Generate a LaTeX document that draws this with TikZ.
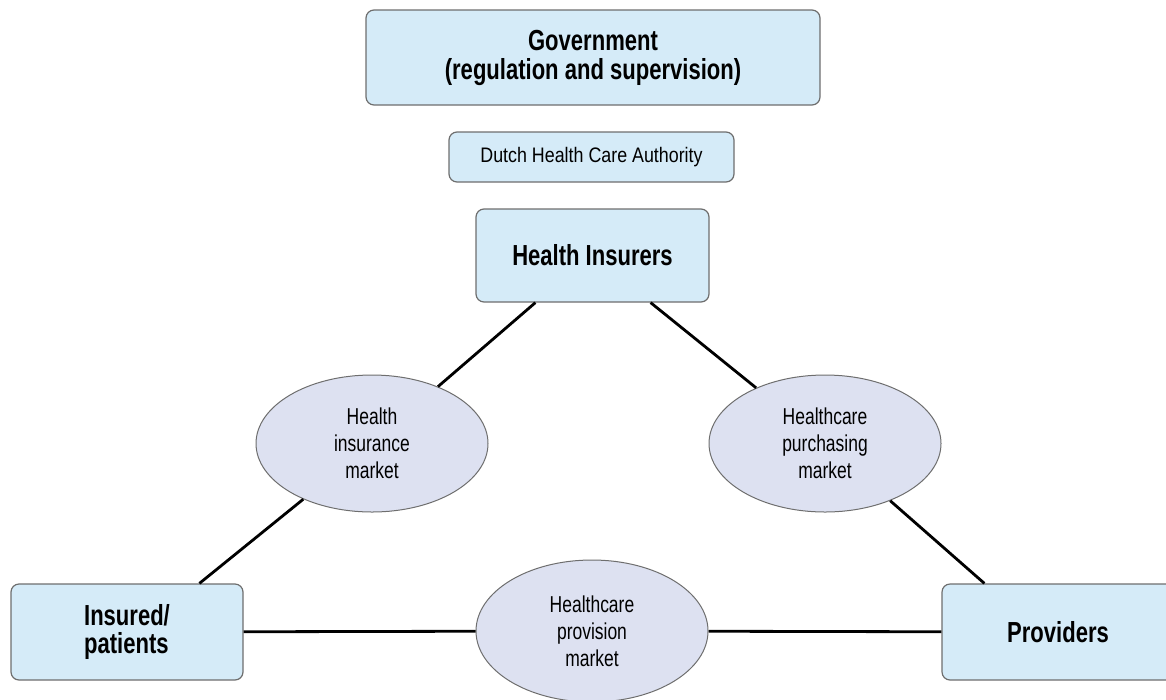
\documentclass[tikz,border=0pt]{standalone}
\usepackage{fontspec}
\setmainfont{Liberation Sans}[FakeStretch=0.76]
\newfontfamily\dutchfont{Liberation Sans}[FakeStretch=0.85]
\usetikzlibrary{shapes.geometric,calc}
\definecolor{boxfill}{HTML}{D5EBF8}
\definecolor{ellfill}{HTML}{DDE1F1}
\definecolor{edge}{HTML}{6E6E6E}
\tikzset{
  box/.style={draw=edge, line width=1.2pt, fill=boxfill, rounded corners=8pt, inner sep=0pt, align=center},
  mkt/.style={ellipse, draw=edge, line width=1pt, fill=ellfill, inner sep=0pt, align=center,
     font=\fontsize{23}{27}\selectfont},
  link/.style={line width=2.8pt, black},
  bigtext/.style={font=\bfseries\fontsize{29}{29}\selectfont},
}
\begin{document}
\begin{tikzpicture}[x=1pt,y=-1pt]
\useasboundingbox (0,0) rectangle (1166,699);
\node[box, bigtext, minimum width=454pt, minimum height=95pt] (gov) at (593,57.5) {Government\\(regulation and supervision)};
\node[box, minimum width=285pt, minimum height=50pt, font=\dutchfont\fontsize{21}{22}\selectfont] (dhca) at (591.5,157) {Dutch Health Care Authority};
\node[box, bigtext, minimum width=233pt, minimum height=93pt] (hi) at (592.5,255.5) {Health Insurers};
\node[box, bigtext, minimum width=232pt, minimum height=96pt, align=left, font=\bfseries\fontsize{29}{28}\selectfont] (ins) at (127,632) {Insured/\\patients};
\node[box, bigtext, minimum width=232pt, minimum height=96pt] (prov) at (1058,632) {Providers};
\node[mkt, minimum width=232pt, minimum height=137pt] (him) at (372,443.5) {Health\\insurance\\market};
\node[mkt, minimum width=232pt, minimum height=137pt] (hpm) at (825,443.5) {Healthcare\\purchasing\\market};
\node[mkt, minimum width=232pt, minimum height=142pt] (hpv) at (592,631) {Healthcare\\provision\\market};
\draw[link] ($(hi.south west)+(60,0)$) -- (him);
\draw[link] (him) -- ($(ins.north west)+(189,0)$);
\draw[link] ($(hi.south east)-(59,0)$) -- (hpm);
\draw[link] (hpm) -- ($(prov.north west)+(43,0)$);
\draw[link] (ins) -- (hpv);
\draw[link] (hpv) -- (prov);
\end{tikzpicture}
\end{document}
